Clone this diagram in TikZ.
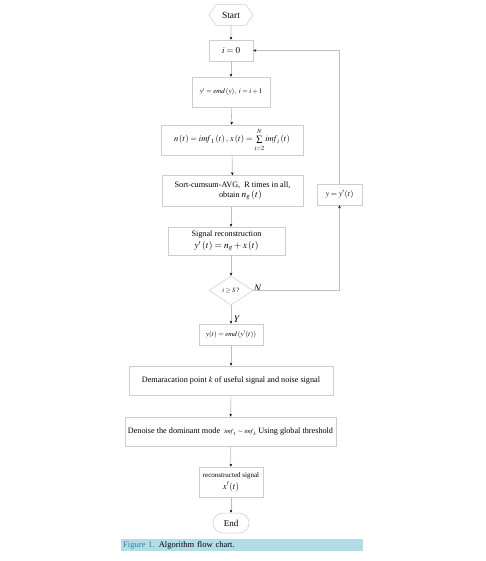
\documentclass[tikz,border=0pt]{standalone}
\usepackage{mathptmx}
\usepackage{fontspec}
\setmainfont{Liberation Serif}
\usetikzlibrary{shapes.geometric,shapes.misc,shapes.symbols,arrows.meta}
\definecolor{boxgray}{RGB}{205,205,205}
\definecolor{linegray}{RGB}{190,190,190}
\definecolor{capblue}{RGB}{178,221,231}
\definecolor{figblue}{RGB}{40,130,170}
\begin{document}
\begin{tikzpicture}[x=1pt,y=-1pt,
  box/.style={draw=boxgray, line width=0.5pt, inner sep=0pt, font=\fontsize{8.2}{9.8}\selectfont, align=center},
  arr/.style={draw=linegray, line width=0.6pt, -{Stealth[black,length=3pt,width=2.6pt]}},
  lbl/.style={inner sep=0pt, font=\fontsize{10}{11}\selectfont}]
\useasboundingbox (0,0) rectangle (486,561);
\fill[white] (0,0) rectangle (486,561);
\node[box, signal, signal to=east and west, signal pointer angle=110, minimum width=44pt, minimum height=21pt, font=\fontsize{9.5}{10}\selectfont] (start) at (231,15) {Start};
\node[box, minimum width=44pt, minimum height=21pt, font=\fontsize{9}{10}\selectfont] (i0) at (231,50.5) {$i=0$};
\node[box, minimum width=78pt, minimum height=30pt, font=\fontsize{7}{8}\selectfont] (emd) at (231,92) {$y'=\mathit{emd}\,(y),\ i=i+1$};
\node[box, minimum width=142pt, minimum height=30pt, font=\fontsize{8.5}{10}\selectfont] (nt) at (232,140) {$n\left(t\right)=\mathit{imf}_1\left(t\right),\,x\left(t\right)=\sum\limits_{\rule{0pt}{6pt}i=2}^{\rule[-2pt]{0pt}{1pt}N}\mathit{imf}_i\left(t\right)$};
\node[box, minimum width=141pt, minimum height=31pt] (sort) at (232.5,191) {Sort-cumsum-AVG,\ \ R times in all,\\[0pt]\hspace*{16pt}obtain {\fontsize{9.5}{10}\selectfont$n_g\left(t\right)$}};
\node[box, minimum width=117pt, minimum height=28pt] (rec) at (226.5,241) {Signal reconstruction\\[2.5pt]{\fontsize{9.5}{10}\selectfont$y'\left(t\right)=n_g+x\left(t\right)$}};
\node[box, diamond, aspect=1.5, minimum width=44pt, minimum height=29pt, font=\fontsize{6.5}{7}\selectfont] (dec) at (231,290.5) {$i\geq S$\,?};
\node[box, minimum width=64pt, minimum height=21pt, font=\fontsize{7}{8}\selectfont] (yt) at (231,334.5) {$y(t)=\mathit{emd}\,(y'(t))$};
\node[box, minimum width=204pt, minimum height=29pt] (dem) at (231,380.5) {Demaracation point $k$ of useful signal and noise signal};
\node[box, minimum width=211pt, minimum height=29pt] (den) at (230.5,431.5) {Denoise the dominant mode\ \ {\fontsize{6.5}{7}\selectfont$\mathit{imf}_1\sim\mathit{imf}_k$} Using global threshold};
\node[box, minimum width=64pt, minimum height=30pt] (rs) at (231,482) {{\fontsize{7}{8}\selectfont reconstructed signal}\\[2pt]{\fontsize{9}{10}\selectfont$x'(t)$}};
\node[box, rounded rectangle, minimum width=36pt, minimum height=20pt, font=\fontsize{9}{10}\selectfont] (end) at (231,523) {End};
\node[box, minimum width=45pt, minimum height=21pt, font=\fontsize{8}{9}\selectfont] (yy) at (339.5,194.5) {$y=y'(t)$};
\node[lbl, anchor=west] (N) at (254,288) {$N$};
\node[lbl, anchor=west] (Y) at (234,319) {$Y$};
\coordinate (c1) at (339.5,290.5);
\coordinate (c2) at (339.5,50.5);
\draw[arr] (start) -- (i0);
\draw[arr] (i0) -- (emd);
\draw[arr] (emd) -- (nt);
\draw[arr] (nt) -- (sort);
\draw[arr] (sort.south -| rec.north) ++(4.5,0) -- ([xshift=4.5pt]rec.north);
\draw[arr] ([xshift=4.5pt]rec.south) -- (dec);
\draw[arr] (dec) -- (yt);
\draw[arr] (yt) -- (dem);
\draw[arr] (dem) -- (den);
\draw[arr] (den) -- (rs);
\draw[arr] (rs) -- (end);
\draw[arr] (dec.east) -- (c1) -- (yy.south);
\draw[arr] (yy.north) -- (c2) -- (i0.east);
\node[fill=capblue, text width=238pt, inner xsep=2pt, inner ysep=0pt, minimum height=12pt, anchor=west, align=left, font=\fontsize{8.5}{9}\selectfont] (cap) at (121,545) {\textcolor{figblue}{Figure 1.} Algorithm flow chart.};
\end{tikzpicture}
\end{document}
